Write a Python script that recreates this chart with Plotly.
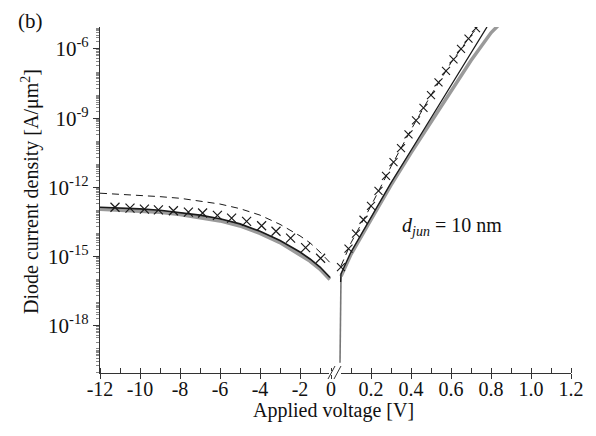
import plotly.graph_objects as go

# ---------------- data (log10 of current density) ----------------
# reverse bias (left panel)
rev_v_solid = [-12, -11, -10, -9, -8, -7, -6, -5, -4, -3, -2, -1.5, -1, -0.5]
rev_log_solid = [-12.86, -12.89, -12.93, -12.99, -13.08, -13.2, -13.36, -13.58,
                 -13.9, -14.3, -14.8, -15.1, -15.45, -15.9]
rev_v_dash = [-12, -11, -10, -9, -8, -7, -6, -5, -4, -3, -2, -1.5, -1, -0.4]
rev_log_dash = [-12.25, -12.29, -12.34, -12.40, -12.47, -12.58, -12.72, -12.92,
                -13.2, -13.6, -14.1, -14.4, -14.8, -15.35]
rev_v_cross = [-11.25, -10.5, -9.78, -9.08, -8.33, -7.58, -6.87, -6.13, -5.42,
               -4.67, -3.92, -3.2, -2.47, -1.72, -0.97]
rev_log_cross = [-12.86, -12.9, -12.94, -12.97, -13.01, -13.07, -13.11, -13.21,
                 -13.33, -13.47, -13.66, -13.9, -14.2, -14.61, -15.07]

# forward bias (right panel)
fwd_v_tail = [0.045, 0.046, 0.047, 0.048, 0.05]
fwd_log_tail = [-19.6, -18.0, -16.9, -16.2, -15.85]
fwd_v_black = [0.048, 0.05, 0.1, 0.2, 0.3, 0.4, 0.5, 0.6, 0.7, 0.78]
fwd_log_black = [-16.1, -15.75, -14.8, -13.3, -11.8, -10.4, -9.0, -7.6, -6.2, -5.05]
fwd_v_gray = [0.05, 0.1, 0.2, 0.3, 0.4, 0.5, 0.6, 0.7, 0.8, 0.84]
fwd_log_gray = [-15.85, -14.9, -13.4, -11.9, -10.5, -9.15, -7.8, -6.5, -5.3, -4.95]
fwd_v_dash = [0.05, 0.1, 0.2, 0.3, 0.4, 0.5, 0.6, 0.7, 0.75]
fwd_log_dash = [-15.4, -14.4, -12.8, -11.1, -9.5, -8.0, -6.6, -5.4, -4.9]
fwd_v_cross = [0.05, 0.0875, 0.125, 0.1625, 0.2, 0.2375, 0.275, 0.3125, 0.35, 0.3875,
               0.425, 0.4625, 0.5, 0.5375, 0.575, 0.6125, 0.65, 0.6875, 0.725]
fwd_log_cross = [-15.45, -14.65, -14.0, -13.4, -12.8, -12.15, -11.5, -10.9, -10.3,
                 -9.7, -9.1, -8.55, -8.0, -7.45, -6.95, -6.45, -6.0, -5.55, -5.1]

left_ticks = [-12, -10, -8, -6, -4, -2]
left_labels = ["-12", "-10", "-8", "-6", "-4", "-2"]
right_ticks = [0, 0.2, 0.4, 0.6, 0.8, 1.0, 1.2]
right_labels = ["0", "0.2", "0.4", "0.6", "0.8", "1.0", "1.2"]
y_ticks_exp = [-18, -15, -12, -9, -6]

def tp(v):
    return [10 ** a for a in v]

SERIF = "Liberation Serif, Times New Roman, serif"
GRAY = "#9a9a9a"
BLK = "#1a1a1a"

fig = go.Figure()

# left panel traces
fig.add_trace(go.Scatter(x=rev_v_solid, y=tp([a - 0.08 for a in rev_log_solid]), mode="lines",
                         line=dict(color=GRAY, width=4), xaxis="x", yaxis="y"))
fig.add_trace(go.Scatter(x=rev_v_solid, y=tp(rev_log_solid), mode="lines",
                         line=dict(color=BLK, width=1.6), xaxis="x", yaxis="y"))
fig.add_trace(go.Scatter(x=rev_v_dash, y=tp(rev_log_dash), mode="lines",
                         line=dict(color=BLK, width=1, dash="7px,5px"), xaxis="x", yaxis="y"))
fig.add_trace(go.Scatter(x=rev_v_cross, y=tp(rev_log_cross), mode="markers",
                         marker=dict(symbol="x-thin", size=9, line=dict(color=BLK, width=1.2)),
                         xaxis="x", yaxis="y"))

# right panel traces
fig.add_trace(go.Scatter(x=fwd_v_tail, y=tp(fwd_log_tail), mode="lines",
                         line=dict(color="#777", width=1.6), xaxis="x2", yaxis="y"))
fig.add_trace(go.Scatter(x=fwd_v_gray, y=tp(fwd_log_gray), mode="lines",
                         line=dict(color=GRAY, width=3.5), xaxis="x2", yaxis="y"))
fig.add_trace(go.Scatter(x=fwd_v_black, y=tp(fwd_log_black), mode="lines",
                         line=dict(color=BLK, width=1.3), xaxis="x2", yaxis="y"))
fig.add_trace(go.Scatter(x=fwd_v_dash, y=tp(fwd_log_dash), mode="lines",
                         line=dict(color=BLK, width=1, dash="7px,5px"), xaxis="x2", yaxis="y"))
fig.add_trace(go.Scatter(x=fwd_v_cross, y=tp(fwd_log_cross), mode="markers",
                         marker=dict(symbol="x-thin", size=8, line=dict(color=BLK, width=1.1)),
                         xaxis="x2", yaxis="y"))

split = 231 / 471

axis_common = dict(showline=True, linecolor="#333", linewidth=1.2, showgrid=False,
                   zeroline=False, ticks="outside", ticklen=5, tickcolor="#333",
                   ticklabelstandoff=-7,
                   tickfont=dict(family=SERIF, size=20, color="#111"))

# page body has an 8px margin: shift margins so plot area sits at x 100..571, y 27..373
fig.update_layout(
    width=596, height=436, showlegend=False,
    paper_bgcolor="white", plot_bgcolor="white",
    margin=dict(l=92, r=33, t=19, b=71),
    xaxis=dict(domain=[0, split], range=[-12, -0.45], tickvals=left_ticks,
               ticktext=left_labels, anchor="y",
               minor=dict(dtick=1, ticks="inside", ticklen=5, tickcolor="#333"),
               **axis_common),
    xaxis2=dict(domain=[split, 1], range=[0, 1.2], tickvals=right_ticks,
                ticktext=right_labels, anchor="y",
                minor=dict(dtick=0.1, ticks="inside", ticklen=5, tickcolor="#333"),
                **axis_common),
    yaxis=dict(type="log", range=[-20.04, -5.05], anchor="x",
               tickvals=[10 ** e for e in y_ticks_exp],
               ticktext=["10<sup>%d</sup>" % e for e in y_ticks_exp],
               minor=dict(dtick="D1", ticks="outside", ticklen=3, tickcolor="#888"),
               showline=True, linecolor="#333", linewidth=1.2, showgrid=False,
               zeroline=False, ticks="outside", ticklen=6, tickcolor="#333",
               tickfont=dict(family=SERIF, size=21, color="#111")),
)

def px(xp):
    return (xp - 100) / 471

def py(yp):
    return (373 - yp) / 346

# axis break marks
fig.add_shape(type="rect", xref="paper", yref="paper", x0=px(329), x1=px(341),
              y0=py(375), y1=py(371), fillcolor="white", line=dict(width=0))
fig.add_shape(type="line", xref="paper", yref="paper", x0=px(328), y0=py(379),
              x1=px(335), y1=py(366), line=dict(color="#333", width=1))
fig.add_shape(type="line", xref="paper", yref="paper", x0=px(334), y0=py(379),
              x1=px(341), y1=py(366), line=dict(color="#333", width=1))

ann = dict(xref="paper", yref="paper", showarrow=False, xanchor="center", yanchor="middle")
fig.add_annotation(text="Applied voltage [V]", x=px(333), y=py(411),
                   font=dict(family=SERIF, size=20, color="#111"), **ann)
fig.add_annotation(text="Diode current density [A/μm<sup>2</sup>]", x=px(30), y=py(192),
                   textangle=-90, font=dict(family=SERIF, size=20, color="#111"), **ann)
fig.add_annotation(text="(b)", x=px(30), y=py(21),
                   font=dict(family=SERIF, size=21, color="#111"), **ann)
fig.add_annotation(text="<i>d<sub>jun</sub></i> = 10 nm", x=px(452), y=py(226),
                   font=dict(family=SERIF, size=20, color="#111"), **ann)

fig.write_html("out.html")
